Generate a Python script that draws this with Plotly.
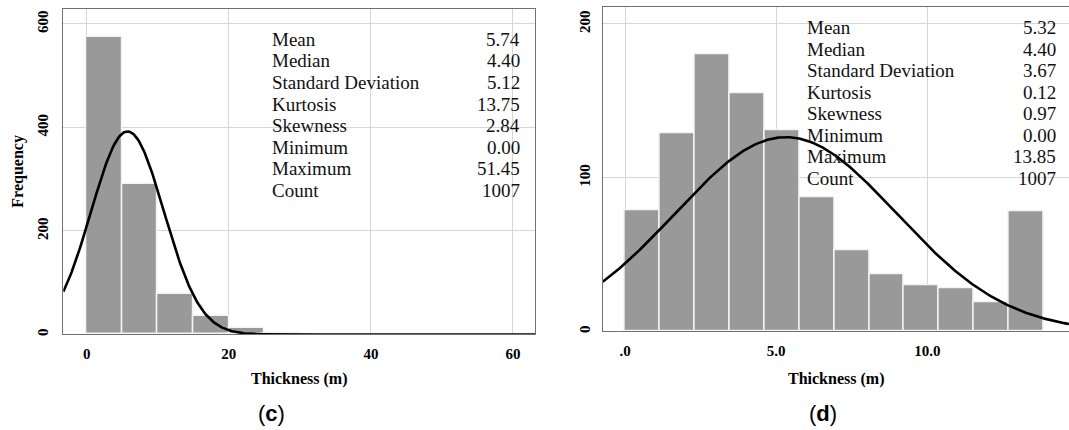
import numpy as np
import plotly.graph_objects as go

# ---------------- data ----------------
# panel (c)
c_bin_width = 5.0
c_bin_starts = [0, 5, 10, 15, 20, 25]
c_counts = [574, 291, 78, 35, 13, 2]
c_stat_names = ["Mean", "Median", "Standard Deviation", "Kurtosis", "Skewness", "Minimum", "Maximum", "Count"]
c_stat_values = ["5.74", "4.40", "5.12", "13.75", "2.84", "0.00", "51.45", "1007"]
c_mean, c_sd, c_n = 5.74, 5.12, 1007
c_xticks = [0, 20, 40, 60]
c_xticktext = ["0", "20", "40", "60"]
c_yticks = [0, 200, 400, 600]

# panel (d)
d_max = 13.85
d_nbins = 12
d_counts = [79, 129, 180, 155, 131, 87, 53, 37, 30, 28, 19, 78]
d_stat_names = ["Mean", "Median", "Standard Deviation", "Kurtosis", "Skewness", "Minimum", "Maximum", "Count"]
d_stat_values = ["5.32", "4.40", "3.67", "0.12", "0.97", "0.00", "13.85", "1007"]
d_mean, d_sd, d_n = 5.32, 3.67, 1007
d_xticks = [0, 5, 10]
d_xticktext = [".0", "5.0", "10.0"]
d_yticks = [0, 100, 200]

# ---------------- layout helpers ----------------
W, H = 1069, 430
def px(x):
    return x / W
def py(y):
    return 1 - y / H

c_xrange = [-3.3, 63.1]
c_yrange = [0, 629]
d_xrange = [-0.74, 14.69]
d_yrange = [0, 210.8]

BAR = "#999999"
GRID = "#d6d6d6"
AXL = "#707070"
SERIF = "Liberation Serif"

fig = go.Figure()

# ---- panel (c) bars
c_centers = [s + c_bin_width / 2 for s in c_bin_starts]
fig.add_trace(go.Bar(x=c_centers, y=c_counts, width=[c_bin_width] * len(c_counts),
                     marker=dict(color=BAR, line=dict(color="#f4f4f4", width=1.5)),
                     xaxis="x", yaxis="y", showlegend=False))
cx = np.linspace(c_xrange[0], c_xrange[1], 400)
cy = c_n * c_bin_width / (c_sd * np.sqrt(2 * np.pi)) * np.exp(-0.5 * ((cx - c_mean) / c_sd) ** 2)
fig.add_trace(go.Scatter(x=cx, y=cy, mode="lines", line=dict(color="black", width=2.6),
                         xaxis="x", yaxis="y", showlegend=False))

# ---- panel (d) bars
d_bw = d_max / d_nbins
d_centers = [d_bw * (i + 0.5) for i in range(d_nbins)]
fig.add_trace(go.Bar(x=d_centers, y=d_counts, width=[d_bw] * d_nbins,
                     marker=dict(color=BAR, line=dict(color="#f4f4f4", width=1.5)),
                     xaxis="x2", yaxis="y2", showlegend=False))
dx = np.linspace(d_xrange[0], d_xrange[1], 400)
dy = d_n * d_bw / (d_sd * np.sqrt(2 * np.pi)) * np.exp(-0.5 * ((dx - d_mean) / d_sd) ** 2)
fig.add_trace(go.Scatter(x=dx, y=dy, mode="lines", line=dict(color="black", width=2.6),
                         xaxis="x2", yaxis="y2", showlegend=False))

tickfont = dict(family=SERIF, size=15, color="black", weight="bold")

fig.update_layout(
    width=W, height=H, margin=dict(l=0, r=0, t=0, b=0),
    paper_bgcolor="white", plot_bgcolor="white", bargap=0,
    xaxis=dict(domain=[px(63.3), px(535)], range=c_xrange, tickvals=c_xticks, ticktext=c_xticktext,
               showgrid=True, gridcolor=GRID, gridwidth=1, zeroline=False,
               showline=True, linecolor=AXL, linewidth=1.3, mirror=True, ticks="",
               tickfont=tickfont, ticklabelstandoff=5, anchor="y"),
    yaxis=dict(domain=[py(336), py(9)], range=c_yrange, tickvals=c_yticks,
               showgrid=True, gridcolor=GRID, gridwidth=1, zeroline=False,
               showline=True, linecolor=AXL, linewidth=1.3, mirror=True, ticks="",
               tickfont=tickfont, tickangle=-90, ticklabelstandoff=8, anchor="x"),
    xaxis2=dict(domain=[px(602.7), 1.0], range=d_xrange, tickvals=d_xticks, ticktext=d_xticktext,
                showgrid=True, gridcolor=GRID, gridwidth=1, zeroline=False,
                showline=True, linecolor=AXL, linewidth=1.3, mirror=True, ticks="",
                tickfont=tickfont, ticklabelstandoff=5, anchor="y2"),
    yaxis2=dict(domain=[py(333), py(7.3)], range=d_yrange, tickvals=d_yticks,
                showgrid=True, gridcolor=GRID, gridwidth=1, zeroline=False,
                showline=True, linecolor=AXL, linewidth=1.3, mirror=False, ticks="",
                tickfont=tickfont, tickangle=-90, ticklabelstandoff=6, anchor="x2"),
)

# white boxes behind the statistics (above gridlines, below traces)
fig.add_shape(type="rect", xref="paper", yref="paper", x0=px(266), x1=px(527), y0=py(209), y1=py(29),
              fillcolor="white", line=dict(width=0), layer="between")
fig.add_shape(type="rect", xref="paper", yref="paper", x0=px(801), x1=px(1062), y0=py(190), y1=py(27),
              fillcolor="white", line=dict(width=0), layer="between")

stat_font = dict(family=SERIF, size=19, color="#111111")
for i, (n, v) in enumerate(zip(c_stat_names, c_stat_values)):
    yy = py(39.5 + 21.7 * i)
    fig.add_annotation(x=px(270), y=yy, xref="paper", yref="paper", text=n, showarrow=False,
                       xanchor="left", yanchor="middle", font=stat_font)
    fig.add_annotation(x=px(522), y=yy, xref="paper", yref="paper", text=v, showarrow=False,
                       xanchor="right", yanchor="middle", font=stat_font)
for i, (n, v) in enumerate(zip(d_stat_names, d_stat_values)):
    yy = py(27.7 + 21.6 * i)
    fig.add_annotation(x=px(805), y=yy, xref="paper", yref="paper", text=n, showarrow=False,
                       xanchor="left", yanchor="middle", font=stat_font)
    fig.add_annotation(x=px(1058), y=yy, xref="paper", yref="paper", text=v, showarrow=False,
                       xanchor="right", yanchor="middle", font=stat_font)

title_font = dict(family=SERIF, size=16, color="black")
fig.add_annotation(x=px(299), y=py(381), xref="paper", yref="paper", text="<b>Thickness (m)</b>",
                   showarrow=False, xanchor="center", yanchor="middle", font=title_font)
fig.add_annotation(x=px(836), y=py(381), xref="paper", yref="paper", text="<b>Thickness (m)</b>",
                   showarrow=False, xanchor="center", yanchor="middle", font=title_font)
fig.add_annotation(x=px(18.5), y=py(172), xref="paper", yref="paper", text="<b>Frequency</b>",
                   showarrow=False, xanchor="center", yanchor="middle", textangle=-90, font=title_font)

panel_font = dict(family="Liberation Sans", size=22, color="black")
fig.add_annotation(x=px(271), y=py(415), xref="paper", yref="paper", text="(<b>c</b>)",
                   showarrow=False, xanchor="center", yanchor="middle", font=panel_font)
fig.add_annotation(x=px(823), y=py(415), xref="paper", yref="paper", text="(<b>d</b>)",
                   showarrow=False, xanchor="center", yanchor="middle", font=panel_font)

fig.write_html("out.html", config={"displayModeBar": False},
               post_script="document.body.style.margin='0';document.body.style.overflow='hidden';")
